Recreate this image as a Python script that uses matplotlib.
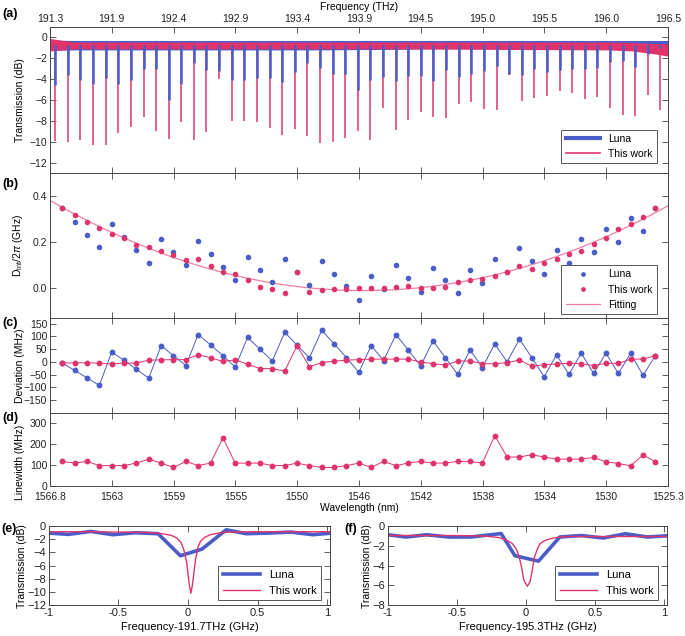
import numpy as np
import matplotlib
matplotlib.use("Agg")
import matplotlib.pyplot as plt

plt.rcParams["font.family"] = ["Liberation Sans", "DejaVu Sans"]
plt.rcParams["mathtext.fontset"] = "custom"
plt.rcParams["mathtext.rm"] = "Liberation Sans"
plt.rcParams["mathtext.it"] = "Liberation Sans:italic"

BLUE = "#4a5cc8"
PINK = "#e0336b"
FIT = "#ef7fa0"
SPINE = "#444444"
FS = 7.5

# shared frequency axis (THz) with wavelength labels underneath
tick_freq = [191.3, 191.82, 192.34, 192.86, 193.38, 193.9, 194.42, 194.94, 195.46, 195.98, 196.5]
freq_labels = ["191.3", "191.9", "192.4", "192.9", "193.4", "193.9", "194.5", "195.0", "195.5", "196.0", "196.5"]
wl_labels = ["1566.8", "1563", "1559", "1555", "1550", "1546", "1542", "1538", "1534", "1530", "1525.3"]

# (a) resonance dips in the broadband transmission
dip_freq = [191.344, 191.450, 191.556, 191.662, 191.768, 191.874, 191.981, 192.087, 192.193, 192.299,
            192.405, 192.511, 192.617, 192.723, 192.829, 192.936, 193.042, 193.148, 193.254, 193.360,
            193.466, 193.572, 193.678, 193.784, 193.891, 193.997, 194.103, 194.209, 194.315, 194.421,
            194.527, 194.633, 194.739, 194.846, 194.952, 195.058, 195.164, 195.270, 195.376, 195.482,
            195.588, 195.694, 195.801, 195.907, 196.013, 196.119, 196.225, 196.331, 196.437]
dip_work = [-9.9, -10.0, -9.8, -10.3, -10.3, -9.2, -8.6, -7.6, -9.0, -9.7,
            -8.1, -9.8, -9.1, -4.0, -8.0, -8.0, -8.1, -8.7, -9.4, -8.8,
            -9.5, -10.1, -10.0, -9.6, -9.0, -9.8, -6.8, -8.9, -7.9, -7.2,
            -7.6, -7.7, -6.4, -6.2, -6.9, -7.0, -3.6, -6.1, -5.8, -5.6,
            -5.1, -5.3, -5.9, -5.7, -6.8, -7.4, -7.5, -5.5, -7.0]
dip_luna = [-4.6, -3.6, -4.1, -4.5, -3.9, -4.5, -4.1, -3.0, -3.0, -6.0,
            -4.5, -2.5, -3.1, -3.2, -4.1, -4.1, -3.9, -3.9, -4.3, -3.3,
            -2.5, -2.9, -3.5, -3.5, -5.0, -4.1, -3.8, -4.2, -3.7, -3.7,
            -4.2, -3.1, -3.8, -3.5, -3.2, -2.7, -3.5, -3.6, -3.0, -3.3,
            -3.1, -3.0, -3.0, -2.9, -2.4, -2.3, -2.8, -1.6, -1.0]
band_freq = [191.3, 191.5, 192.5, 193.5, 194.2, 195.0, 196.0, 196.2, 196.4, 196.5]
luna_top = [-0.25, -0.3, -0.3, -0.3, -0.3, -0.3, -0.3, -0.3, -0.3, -0.3]
luna_bot = [-1.25, -1.2, -1.2, -1.2, -1.15, -1.0, -1.0, -1.0, -1.0, -1.0]
work_top = [-0.1, -0.45, -0.45, -0.45, -0.45, -0.45, -0.45, -0.5, -0.6, -0.6]
work_bot = [-1.3, -1.1, -1.1, -1.1, -1.1, -1.15, -1.2, -1.3, -1.6, -1.8]

# (b)-(d) per-mode values
mode_freq = [191.403, 191.507, 191.611, 191.715, 191.819, 191.923, 192.027, 192.131, 192.235, 192.339,
             192.443, 192.547, 192.651, 192.755, 192.859, 192.963, 193.067, 193.171, 193.275, 193.379,
             193.483, 193.587, 193.691, 193.795, 193.899, 194.003, 194.107, 194.211, 194.315, 194.419,
             194.523, 194.627, 194.731, 194.835, 194.939, 195.043, 195.147, 195.251, 195.355, 195.459,
             195.563, 195.667, 195.771, 195.875, 195.979, 196.083, 196.187, 196.291, 196.395]
dint_work = [0.346, 0.317, 0.289, 0.261, 0.234, 0.216, 0.187, 0.178, 0.161, 0.142,
             0.124, 0.126, 0.098, 0.069, 0.061, 0.034, 0.004, -0.004, -0.022, 0.070,
             -0.019, -0.007, -0.006, -0.004, -0.001, 0.0, 0.001, 0.003, 0.007, 0.0,
             0.001, 0.004, 0.025, 0.037, 0.039, 0.051, 0.070, 0.095, 0.085, 0.107,
             0.128, 0.149, 0.162, 0.193, 0.216, 0.257, 0.279, 0.310, 0.350]
dint_luna = [0.346, 0.288, 0.232, 0.177, 0.279, 0.223, 0.165, 0.109, 0.213, 0.156,
             0.101, 0.203, 0.147, 0.092, 0.035, 0.137, 0.080, 0.025, 0.128, 0.070,
             0.015, 0.118, 0.063, 0.007, -0.051, 0.053, -0.004, 0.099, 0.042, -0.015,
             0.089, 0.034, -0.023, 0.080, 0.023, 0.127, 0.072, 0.174, 0.118, 0.061,
             0.164, 0.107, 0.212, 0.155, 0.258, 0.201, 0.304, 0.248, 0.350]
dev_luna = [-4, -33, -62, -92, 38, 7, -29, -63, 63, 25,
            -14, 107, 67, 25, -20, 96, 50, 4, 116, 66,
            16, 124, 71, 17, -41, 64, 5, 107, 47, -16,
            83, 17, -49, 47, -22, 71, 0, 89, 17, -58,
            28, -49, 34, -45, 34, -45, 34, -53, 25]
dev_work = [-4, -4, -3, -5, -8, -4, -5, 7, 8, 9,
            9, 28, 16, 2, 8, -9, -26, -26, -36, 63,
            -18, -3, 3, 7, 9, 11, 11, 11, 11, 0,
            -7, -12, 3, 4, -7, -7, -3, 8, -17, -11,
            -8, -5, -7, -14, -5, -6, 11, 11, 25]
linewidth = [118, 110, 118, 98, 98, 98, 110, 129, 110, 89,
             118, 98, 110, 231, 110, 110, 110, 98, 98, 110,
             98, 89, 89, 98, 110, 89, 118, 98, 110, 118,
             110, 110, 118, 118, 110, 242, 139, 139, 150, 139,
             129, 129, 129, 137, 116, 108, 97, 149, 116]

# (e) single resonance near 191.7 THz
e_luna_x = [-1.0, -0.86, -0.70, -0.54, -0.38, -0.215, -0.055, 0.10, 0.275, 0.42, 0.58, 0.74, 0.90, 1.06]
e_luna_y = [-1.05, -1.25, -0.8, -1.3, -1.0, -1.15, -4.5, -3.5, -0.55, -1.15, -1.05, -0.9, -1.3, -1.0]
e_work_x = [-1.0, -0.7, -0.5, -0.3, -0.2, -0.12, -0.08, -0.05, -0.03, -0.01, 0.0, 0.01, 0.02,
            0.03, 0.04, 0.055, 0.07, 0.09, 0.12, 0.16, 0.22, 0.3, 0.5, 0.7, 1.05]
e_work_y = [-0.85, -0.85, -0.9, -0.95, -1.1, -1.4, -1.8, -2.5, -3.6, -5.5, -7.3, -9.0, -10.2,
            -9.2, -7.5, -5.0, -3.3, -2.3, -1.7, -1.3, -1.05, -0.9, -0.85, -0.85, -0.85]

# (f) single resonance near 195.3 THz
f_luna_x = [-1.0, -0.87, -0.72, -0.56, -0.40, -0.18, -0.08, 0.09, 0.245, 0.40, 0.56, 0.72, 0.88, 1.05]
f_luna_y = [-0.87, -1.1, -0.87, -1.1, -1.1, -0.75, -3.0, -3.55, -1.1, -0.95, -1.2, -0.77, -1.1, -0.95]
f_work_x = [-1.0, -0.7, -0.5, -0.3, -0.2, -0.15, -0.1, -0.07, -0.05, -0.03, -0.015, 0.01,
            0.03, 0.045, 0.06, 0.08, 0.1, 0.13, 0.17, 0.22, 0.3, 0.5, 0.7, 1.05]
f_work_y = [-0.95, -0.95, -0.95, -1.0, -1.15, -1.35, -1.75, -2.3, -3.1, -4.3, -5.5, -6.1,
            -5.6, -4.5, -3.2, -2.4, -1.8, -1.5, -1.3, -1.15, -1.05, -1.05, -1.05, -1.05]


def style_axes(ax):
    for s in ax.spines.values():
        s.set_color(SPINE)
        s.set_linewidth(0.7)
    ax.tick_params(direction="in", top=True, right=True, length=4, width=0.6,
                   colors=SPINE, labelcolor="#222222", labelsize=FS, pad=2)


def style_legend(leg):
    frame = leg.get_frame()
    frame.set_boxstyle("square", pad=0)
    frame.set_edgecolor("#555555")
    frame.set_linewidth(0.7)


fig = plt.figure(figsize=(6.85, 6.36), dpi=100)

ax_a = fig.add_axes([0.073, 0.728, 0.902, 0.2296])
ax_b = fig.add_axes([0.073, 0.500, 0.902, 0.228])
ax_c = fig.add_axes([0.073, 0.3506, 0.902, 0.1494])
ax_d = fig.add_axes([0.073, 0.2358, 0.902, 0.1148])
ax_e = fig.add_axes([0.0715, 0.0487, 0.410, 0.124])
ax_f = fig.add_axes([0.5664, 0.0487, 0.407, 0.124])

for ax in (ax_a, ax_b, ax_c, ax_d):
    style_axes(ax)
    ax.set_xlim(191.3, 196.5)
    ax.set_xticks(tick_freq)
    ax.tick_params(labelbottom=False)
    ax.yaxis.set_label_coords(-0.040, 0.5)

# (a)
ax_a.fill_between(band_freq, luna_bot, luna_top, color=BLUE, lw=0, zorder=1)
ax_a.fill_between(band_freq, work_bot, work_top, color=PINK, lw=0, zorder=2)
ax_a.vlines(dip_freq, -0.7, dip_work, color=PINK, lw=1.1, zorder=2)
ax_a.vlines(dip_freq, -0.7, dip_luna, color=BLUE, lw=1.8, zorder=3)
ax_a.plot([], [], color=BLUE, lw=3, label="Luna")
ax_a.plot([], [], color=PINK, lw=1.2, label="This work")
ax_a.set_ylim(-13, 1)
ax_a.set_yticks([0, -2, -4, -6, -8, -10, -12])
ax_a.set_ylabel("Transmission (dB)", fontsize=FS, labelpad=1)
ax_a.tick_params(labeltop=True)
ax_a.set_xticklabels(freq_labels)
ax_a.xaxis.set_label_position("top")
ax_a.set_xlabel("Frequency (THz)", fontsize=FS, labelpad=3)
leg = ax_a.legend(loc="lower right", bbox_to_anchor=(0.982, 0.068), borderaxespad=0,
                  fontsize=FS, handlelength=3.3, fancybox=False, framealpha=1)
style_legend(leg)

# (b)
ax_b.plot(mode_freq, dint_luna, "o", color=BLUE, ms=3, lw=0, label="Luna")
ax_b.plot(mode_freq, dint_work, "o", color=PINK, ms=3, lw=0, label="This work")
coef = np.polyfit(mode_freq, dint_work, 2)
fit_x = np.linspace(191.3, 196.5, 300)
ax_b.plot(fit_x, np.polyval(coef, fit_x), color=FIT, lw=0.9, label="Fitting", zorder=1)
ax_b.set_ylim(-0.13, 0.5)
ax_b.set_yticks([0, 0.2, 0.4])
ax_b.set_ylabel(r"D$_{\mathrm{int}}$/2$\pi$ (GHz)", fontsize=FS, labelpad=1)
leg = ax_b.legend(loc="lower right", bbox_to_anchor=(0.982, 0.028), borderaxespad=0,
                  fontsize=FS, handlelength=3.3, fancybox=False, framealpha=1, markerscale=0.8)
style_legend(leg)

# (c)
ax_c.plot(mode_freq, dev_luna, "-o", color=BLUE, ms=3.2, lw=0.7)
ax_c.plot(mode_freq, dev_work, "-o", color=PINK, ms=3.2, lw=0.7)
ax_c.set_ylim(-200, 172)
ax_c.set_yticks([-150, -100, -50, 0, 50, 100, 150])
ax_c.set_ylabel("Deviation (MHz)", fontsize=FS, labelpad=1)

# (d)
ax_d.plot(mode_freq, linewidth, "-o", color=PINK, ms=3.2, lw=0.7)
ax_d.set_ylim(0, 350)
ax_d.set_yticks([0, 100, 200, 300])
ax_d.set_ylabel("Linewidth (MHz)", fontsize=FS, labelpad=1)
ax_d.yaxis.set_label_coords(-0.040, 0.33)
ax_d.tick_params(labelbottom=True)
ax_d.tick_params(axis="x", pad=4)
ax_d.set_xticklabels(wl_labels)
ax_d.set_xlabel("Wavelength (nm)", fontsize=FS, labelpad=1)

# (e) and (f)
for ax, lx, ly, wx, wy, ymin, lab in (
        (ax_e, e_luna_x, e_luna_y, e_work_x, e_work_y, -12, "Frequency-191.7THz (GHz)"),
        (ax_f, f_luna_x, f_luna_y, f_work_x, f_work_y, -8, "Frequency-195.3THz (GHz)")):
    style_axes(ax)
    ax.tick_params(labelsize=8)
    ax.plot(lx, ly, color=BLUE, lw=2.6, label="Luna")
    ax.plot(wx, wy, color=PINK, lw=1.0, label="This work")
    ax.set_xlim(-1, 1.02)
    ax.set_ylim(ymin, 0)
    ax.set_xticks([-1, -0.5, 0, 0.5, 1])
    ax.set_xticklabels(["-1", "-0.5", "0", "0.5", "1"])
    ax.set_yticks(list(range(ymin, 1, 2)))
    ax.set_xlabel(lab, fontsize=8, labelpad=3)
    ax.set_ylabel("Transmission (dB)", fontsize=7.5, labelpad=1)
    leg = ax.legend(loc="lower right", bbox_to_anchor=(0.97, 0.063), borderaxespad=0,
                    fontsize=8, handlelength=3.4, fancybox=False, framealpha=1)
    style_legend(leg)

ax_e.yaxis.set_label_coords(-0.080, 0.5)
ax_f.yaxis.set_label_coords(-0.058, 0.5)

for txt, x, y in (("(a)", 0.004, 0.978), ("(b)", 0.004, 0.71), ("(c)", 0.004, 0.492),
                  ("(d)", 0.004, 0.342), ("(e)", 0.002, 0.168), ("(f)", 0.503, 0.168)):
    fig.text(x, y, txt, fontsize=9, fontweight="bold", va="center")

fig.savefig("out.png", dpi=100)
